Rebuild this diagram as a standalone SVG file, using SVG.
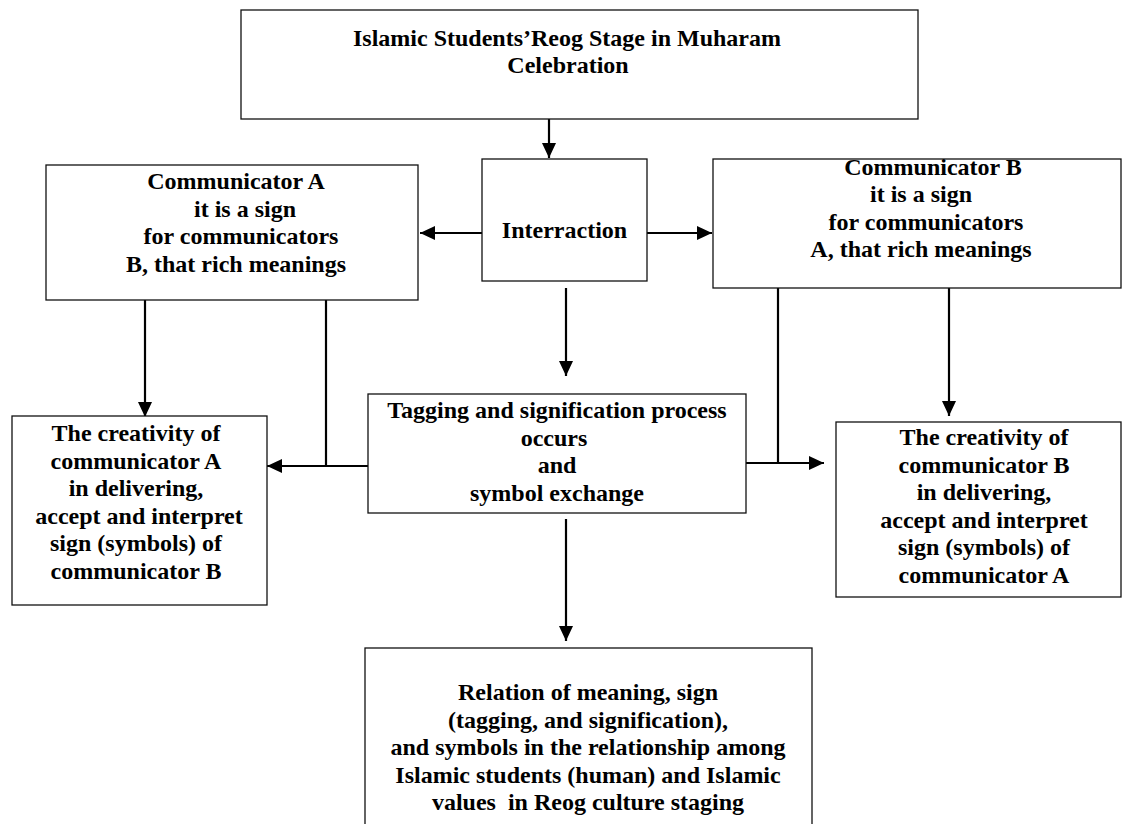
<svg xmlns="http://www.w3.org/2000/svg" width="1126" height="824" viewBox="0 0 1126 824">
<style>
.box{fill:#fff;stroke:#111;stroke-width:1.3}
.t{font-family:"Liberation Serif","Times New Roman",serif;font-weight:bold;font-size:24px;fill:#000;text-anchor:middle}
.c{stroke:#000;stroke-width:2.2;fill:none}
</style>
<defs>
<marker id="ah" viewBox="0 0 15 14" refX="15" refY="7" markerWidth="15" markerHeight="14" markerUnits="userSpaceOnUse" orient="auto">
<path d="M0,0 L15,7 L0,14 z" fill="#000"/>
</marker>
</defs>
<rect width="1126" height="824" fill="#fff"/>
<g id="connectors">
<line class="c" x1="549" y1="119" x2="549" y2="158" marker-end="url(#ah)"/>
<line class="c" x1="482" y1="233" x2="420" y2="233" marker-end="url(#ah)"/>
<line class="c" x1="647" y1="233" x2="712" y2="233" marker-end="url(#ah)"/>
<line class="c" x1="566" y1="288" x2="566" y2="376" marker-end="url(#ah)"/>
<line class="c" x1="145" y1="300" x2="145" y2="417" marker-end="url(#ah)"/>
<line class="c" x1="326" y1="300" x2="326" y2="465"/>
<line class="c" x1="368" y1="466" x2="267" y2="466" marker-end="url(#ah)"/>
<line class="c" x1="949" y1="288" x2="949" y2="416" marker-end="url(#ah)"/>
<line class="c" x1="778" y1="288" x2="778" y2="464"/>
<line class="c" x1="746" y1="463" x2="824" y2="463" marker-end="url(#ah)"/>
<line class="c" x1="566" y1="519" x2="566" y2="641" marker-end="url(#ah)"/>
</g>
<g id="top">
<rect class="box" x="241" y="10" width="677" height="109"/>
<text class="t" x="567" y="45.5">Islamic Students’Reog Stage in Muharam</text>
<text class="t" x="568" y="72.5">Celebration</text>
</g>
<g id="interraction">
<rect class="box" x="482" y="159" width="165" height="122"/>
<text class="t" x="564.5" y="238">Interraction</text>
</g>
<g id="commA">
<rect class="box" x="46" y="165" width="372" height="135"/>
<text class="t" x="236" y="189">Communicator A</text>
<text class="t" x="245" y="216.5">it is a sign</text>
<text class="t" x="241" y="244">for communicators</text>
<text class="t" x="236" y="271.5">B, that rich meanings</text>
</g>
<g id="commB">
<rect class="box" x="713" y="159" width="408" height="129"/>
<text class="t" x="933" y="175">Communicator B</text>
<text class="t" x="921" y="202">it is a sign</text>
<text class="t" x="926" y="229.5">for communicators</text>
<text class="t" x="921" y="257">A, that rich meanings</text>
</g>
<g id="tagging">
<rect class="box" x="368" y="394" width="378" height="119"/>
<text class="t" x="557" y="418">Tagging and signification process</text>
<text class="t" x="554" y="446">occurs</text>
<text class="t" x="557" y="473">and</text>
<text class="t" x="557" y="501">symbol exchange</text>
</g>
<g id="creativityA">
<rect class="box" x="12" y="416" width="255" height="189"/>
<text class="t" x="136" y="441">The creativity of</text>
<text class="t" x="136" y="468.5">communicator A</text>
<text class="t" x="136" y="496">in delivering,</text>
<text class="t" x="139" y="523.5">accept and interpret</text>
<text class="t" x="136" y="551">sign (symbols) of</text>
<text class="t" x="136" y="578.5">communicator B</text>
</g>
<g id="creativityB">
<rect class="box" x="836" y="422" width="285" height="175"/>
<text class="t" x="984" y="445">The creativity of</text>
<text class="t" x="984" y="472.5">communicator B</text>
<text class="t" x="984" y="500">in delivering,</text>
<text class="t" x="984" y="527.5">accept and interpret</text>
<text class="t" x="984" y="555">sign (symbols) of</text>
<text class="t" x="984" y="582.5">communicator A</text>
</g>
<g id="relation">
<rect class="box" x="365" y="648" width="447" height="190"/>
<text class="t" x="588" y="700">Relation of meaning, sign</text>
<text class="t" x="588" y="727.5">(tagging, and signification),</text>
<text class="t" x="588" y="755">and symbols in the relationship among</text>
<text class="t" x="588" y="782.5">Islamic students (human) and Islamic</text>
<text class="t" x="588" y="810" style="white-space:pre">values  in Reog culture staging</text>
</g>
</svg>
